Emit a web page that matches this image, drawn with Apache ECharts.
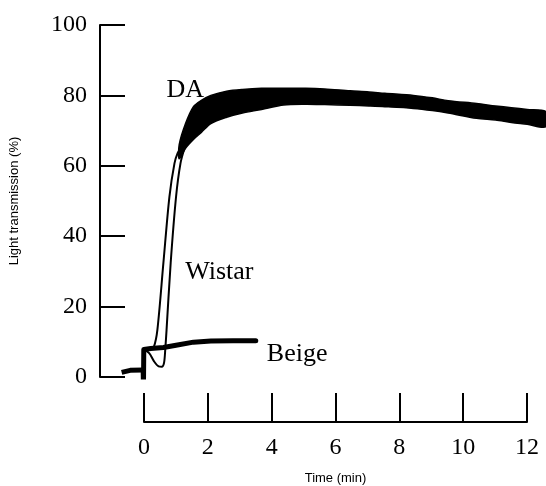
<!DOCTYPE html>
<html>
<head>
<meta charset="utf-8">
<script src="https://cdn.jsdelivr.net/npm/echarts@6/dist/echarts.min.js"></script>
<style>
html,body{margin:0;padding:0;background:#fff;}
#c{width:546px;height:486px;}
</style>
</head>
<body>
<div id="c"></div>
<script>
// ---- data (time in min, light transmission in %) ----
var xTicks = [0, 2, 4, 6, 8, 10, 12];
var yTicks = [0, 20, 40, 60, 80, 100];

// thick noisy DA trace, drawn as a band between lower and upper edges
var bandTime  = [1.0, 1.2, 1.45, 1.7, 2.0, 2.5, 3.0, 3.6, 4.3, 5.0, 5.6, 6.4, 7.0, 7.5, 8.4, 9.0, 9.5, 10.4, 11.0, 11.5, 12.0, 12.59];
var bandLower = [62, 65, 67.5, 69.5, 72, 73.8, 75, 76, 77.3, 77.5, 77.4, 77.2, 77, 76.8, 76.3, 75.7, 75, 73.5, 73, 72.3, 71.8, 71.1];
var bandUpper = [66, 72, 76.8, 78.6, 80, 81.2, 81.7, 82, 82, 82, 81.8, 81.3, 81, 80.6, 80, 79.3, 78.5, 77.7, 77, 76.5, 76, 75.4];

// pre-baseline trace before addition
var baseTime = [-0.82, -0.55, -0.14];
var baseVal  = [1.3, 1.9, 2.0];

// Beige
var beigeTime = [-0.14, -0.13, -0.12, 0.1, 0.5, 0.9, 1.45, 2.0, 2.7, 3.42];
var beigeVal  = [2.0, -2.7, 7.8, 8.1, 8.4, 9.0, 9.9, 10.2, 10.3, 10.3];

// DA (thin rising part)
var daTime = [-0.12, 0.1, 0.2, 0.31, 0.5, 0.69, 0.85, 0.95, 1.05];
var daVal  = [7.8, 8.0, 8.6, 13.4, 32.4, 51.2, 60.7, 63.6, 65];

// Wistar (thin, with dip)
var wiTime = [-0.12, 0.05, 0.2, 0.35, 0.45, 0.52, 0.56, 0.6, 0.73, 0.9, 1.04, 1.18];
var wiVal  = [7.8, 6.8, 4.5, 3.0, 2.9, 4.0, 8.0, 13.4, 32.4, 51.2, 60.7, 65.4];

// curve labels: [text, time, value] anchor (left-middle)
var curveLabels = [["DA", 0.6, 81.5], ["Wistar", 1.19, 29.8], ["Beige", 3.77, 6.5]];

function pairs(xs, ys){ return xs.map(function(x,i){ return [x, ys[i]]; }); }

var chart = echarts.init(document.getElementById('c'), null, {renderer:'canvas'});
var serif = '"Liberation Serif","DejaVu Serif",serif';
var sans = 'Arial,"Liberation Sans","DejaVu Sans",sans-serif';

var option = {
  backgroundColor: '#fff',
  animation: false,
  grid: [
    {left: 97, right: 0, top: 25, bottom: 109},
    {left: 144, right: 19, top: 398, bottom: 59}
  ],
  xAxis: [
    {gridIndex: 0, type: 'value', min: -1.504, max: 12.594, show: false},
    {gridIndex: 1, type: 'value', min: 0, max: 12, interval: 2,
     axisLine: {show: true, onZero: false, lineStyle: {color: '#000', width: 2}},
     axisTick: {show: true, inside: true, length: 29, lineStyle: {color: '#000', width: 2}},
     axisLabel: {color: '#000', fontFamily: serif, fontSize: 24, margin: 14,
       formatter: function(v){ return xTicks.indexOf(v) >= 0 ? String(v) : ''; }},
     splitLine: {show: false},
     name: 'Time (min)', nameLocation: 'middle', nameGap: 50,
     nameTextStyle: {color: '#000', fontFamily: sans, fontSize: 13}}
  ],
  yAxis: [
    {gridIndex: 0, type: 'value', min: 0, max: 100, interval: 20,
     axisLine: {show: true, onZero: false, lineStyle: {color: '#000', width: 2}},
     axisTick: {show: true, inside: true, length: 25, lineStyle: {color: '#000', width: 2}},
     axisLabel: {color: '#000', fontFamily: serif, fontSize: 24, margin: 13,
       formatter: function(v){ return yTicks.indexOf(v) >= 0 ? String(v) : ''; }},
     splitLine: {show: false},
     name: 'Light transmission (%)', nameLocation: 'middle', nameGap: 79,
     nameTextStyle: {color: '#000', fontFamily: sans, fontSize: 13}},
    {gridIndex: 1, type: 'value', min: 0, max: 1, show: false}
  ],
  series: [
    {type: 'custom', xAxisIndex: 0, yAxisIndex: 0, data: [[0, 0]], silent: true,
     renderItem: function(params, api){
       var pts = [];
       for (var i = 0; i < bandTime.length; i++) pts.push(api.coord([bandTime[i], bandUpper[i]]));
       for (var j = bandTime.length - 1; j >= 0; j--) pts.push(api.coord([bandTime[j], bandLower[j]]));
       return {type: 'polygon', shape: {points: pts, smooth: 0.3},
               style: {fill: '#000', stroke: '#000', lineWidth: 1.5}};
     }},
    {type: 'line', data: pairs(baseTime, baseVal), showSymbol: false,
     lineStyle: {color: '#000', width: 5}},
    {type: 'line', data: pairs(wiTime, wiVal), showSymbol: false, smooth: 0.3,
     lineStyle: {color: '#000', width: 2}},
    {type: 'line', data: pairs(daTime, daVal), showSymbol: false, smooth: 0.3,
     lineStyle: {color: '#000', width: 2}},
    {type: 'line', data: pairs(beigeTime, beigeVal), showSymbol: false,
     lineStyle: {color: '#000', width: 5, cap: 'round', join: 'round'}}
  ]
};
chart.setOption(option);

var g = curveLabels.map(function(l){
  var p = chart.convertToPixel({gridIndex: 0}, [l[1], l[2]]);
  return {type: 'text', x: p[0], y: p[1],
          style: {text: l[0], fill: '#000', font: '26px ' + serif, textVerticalAlign: 'middle', verticalAlign: 'middle'}};
});
chart.setOption({graphic: g});
</script>
</body>
</html>
